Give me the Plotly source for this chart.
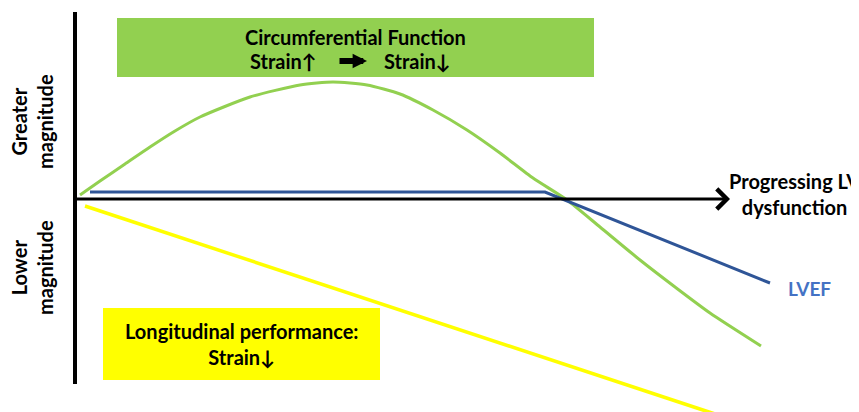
import plotly.graph_objects as go

# ---- data (schematic units: x = progression of LV dysfunction, y = magnitude) ----
circ_x = [0.5, 2.5, 5.0, 7.5, 10.0, 12.5, 17.5, 22.5, 25.8, 29.2, 32.5, 35.8, 39.2, 42.5, 45.8, 49.2, 52.5, 56.5, 60.0, 63.5, 68.6]
circ_y = [0.4, 1.8, 3.5, 5.2, 6.8, 8.2, 10.2, 11.4, 11.7, 11.4, 10.5, 8.9, 6.9, 4.6, 2.1, -0.1, -2.8, -6.1, -8.8, -11.4, -14.7]

lvef_x = [1.5, 47.0, 69.5]
lvef_y = [0.7, 0.7, -8.4]

long_x = [1.0, 64.0]
long_y = [-0.7, -21.5]

axis_x_end = 65.5
axis_y_top = 18.7
axis_y_bottom = -18.5

FONT = "Lato"
GREEN = "#92D050"
BLUE_LINE = "#2F5597"
BLUE_TEXT = "#4472C4"
YELLOW = "#FFFF00"

fig = go.Figure()

fig.add_trace(go.Scatter(x=circ_x, y=circ_y, mode="lines",
                         line=dict(color=GREEN, width=3, shape="spline", smoothing=0.6),
                         hoverinfo="skip", showlegend=False))
fig.add_trace(go.Scatter(x=lvef_x, y=lvef_y, mode="lines",
                         line=dict(color=BLUE_LINE, width=3),
                         hoverinfo="skip", showlegend=False))
fig.add_trace(go.Scatter(x=long_x, y=long_y, mode="lines",
                         line=dict(color=YELLOW, width=3.5),
                         hoverinfo="skip", showlegend=False))

shapes = [
    dict(type="rect", xref="x", yref="y", x0=4.2, x1=51.9, y0=12.2, y1=18.1,
         fillcolor=GREEN, line=dict(width=0), layer="below"),
    dict(type="rect", xref="x", yref="y", x0=2.8, x1=30.5, y0=-18.1, y1=-10.9,
         fillcolor=YELLOW, line=dict(width=0), layer="below"),
    dict(type="line", xref="x", yref="y", x0=0, x1=0, y0=axis_y_bottom, y1=axis_y_top,
         line=dict(color="black", width=4)),
]

txt = dict(family=FONT, size=20, color="black")
annotations = [
    # horizontal axis arrow
    dict(x=axis_x_end, y=0, ax=0, ay=0, xref="x", yref="y", axref="x", ayref="y",
         text="", showarrow=True, arrowhead=4, arrowsize=1.3, arrowwidth=3, arrowcolor="black"),
    # green box texts
    dict(x=28.0, y=16.2, xref="x", yref="y", showarrow=False, borderpad=0,
         text="<b>Circumferential Function</b>", font=txt),
    dict(x=24.3, y=13.8, xref="x", yref="y", showarrow=False, xanchor="right", borderpad=0,
         text="<b>Strain↑</b>", font=txt),
    dict(x=30.8, y=13.8, xref="x", yref="y", showarrow=False, xanchor="left", borderpad=0,
         text="<b>Strain↓</b>", font=txt),
    dict(x=29.2, y=13.8, ax=26.3, ay=13.8, xref="x", yref="y", axref="x", ayref="y",
         text="", showarrow=True, arrowhead=2, arrowsize=0.48, arrowwidth=6, arrowcolor="black"),
    # yellow box text
    dict(x=16.7, y=-14.5, xref="x", yref="y", showarrow=False, align="center",
         text="<b>Longitudinal performance:<br>Strain↓</b>", font=txt),
    # axis label
    dict(x=71.9, y=0.5, xref="x", yref="y", showarrow=False, align="center",
         text="<b>Progressing LV<br>dysfunction</b>", font=txt),
    dict(x=73.4, y=-8.9, xref="x", yref="y", showarrow=False,
         text="<b>LVEF</b>", font=dict(family=FONT, size=19, color=BLUE_TEXT)),
    dict(x=-4.3, y=7.7, xref="x", yref="y", showarrow=False, textangle=-90, align="center",
         text="<b>Greater<br>magnitude</b>", font=txt),
    dict(x=-4.3, y=-6.9, xref="x", yref="y", showarrow=False, textangle=-90, align="center",
         text="<b>Lower<br>magnitude</b>", font=txt),
]

# the page body adds an 8px offset; ranges compensate so marks land where intended
fig.update_layout(
    width=859, height=412,
    margin=dict(l=0, r=0, t=0, b=0),
    paper_bgcolor="white", plot_bgcolor="white",
    xaxis=dict(range=[-6.7, 79.2], visible=False, fixedrange=True),
    yaxis=dict(range=[-22.1, 19.1], visible=False, fixedrange=True),
    shapes=shapes, annotations=annotations,
    showlegend=False,
)

fig.write_html("out.html")
